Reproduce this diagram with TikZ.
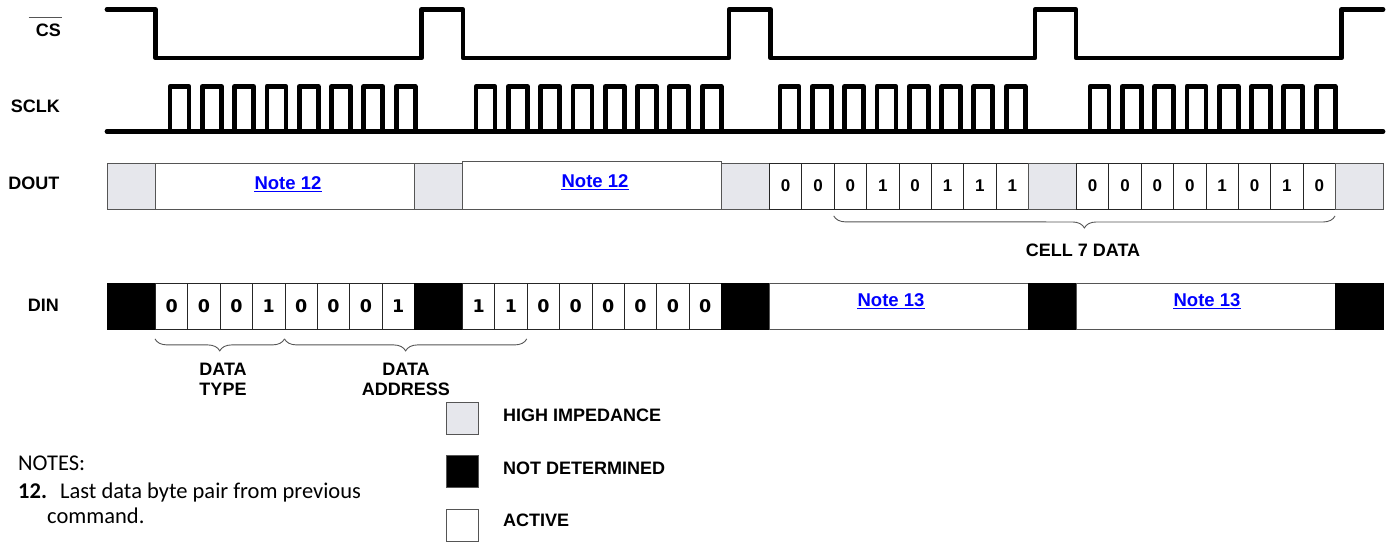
\documentclass[tikz,border=0pt]{standalone}
\usepackage{fontspec}
\setmainfont{Liberation Sans}
\newfontfamily\dinfont{DejaVu Sans}
\newfontfamily\notesfont{Carlito}
\usetikzlibrary{decorations.pathreplacing}
\definecolor{hizgray}{RGB}{230,231,236}
\definecolor{edgegray}{RGB}{85,85,85}
\definecolor{linkblue}{RGB}{0,0,255}
\begin{document}
\begin{tikzpicture}[x=1pt,y=-1pt,
  wave/.style={line width=4.8pt, line cap=round, line join=round},
  siglabel/.style={font=\fontsize{18}{21}\selectfont\bfseries, anchor=east, inner sep=0pt},
  slot/.style={draw=edgegray, line width=1pt, minimum width=48pt, minimum height=46pt, inner sep=0pt, anchor=north west},
  hiz/.style={slot, fill=hizgray},
  undet/.style={slot, fill=black, draw=black},
  datbox/.style={draw=edgegray, line width=1pt, fill=white, minimum width=259pt, minimum height=46pt, inner sep=0pt, anchor=north west},
  cell/.style={draw=black!85, line width=0.9pt, fill=white, minimum width=32.375pt, minimum height=46pt, inner sep=0pt, anchor=north west, font=\fontsize{17}{20}\selectfont\bfseries},
  dincell/.style={cell, font=\dinfont\fontsize{17.5}{20}\selectfont\bfseries},
  notelink/.style={text=linkblue, font=\fontsize{18.5}{22}\selectfont\bfseries, inner sep=0pt, anchor=base},
  linkline/.style={draw=linkblue, line width=1.4pt},
  caption/.style={font=\fontsize{18}{20}\selectfont\bfseries, inner sep=0pt, align=center},
  bracebar/.style={draw=edgegray, line width=0.9pt, decorate, decoration={brace, mirror, amplitude=12pt}},
  legbox/.style={draw=edgegray, line width=1pt, minimum width=32pt, minimum height=32pt, inner sep=0pt, anchor=north west},
  legtext/.style={font=\fontsize{18}{21}\selectfont\bfseries, anchor=west, inner sep=0pt},
  notetext/.style={font=\notesfont\fontsize{22.5}{26}\selectfont, anchor=base west, inner sep=0pt},
  overbar/.style={draw=edgegray, line width=1pt}
]
\useasboundingbox (0,0) rectangle (1389,542);

% ---------- signal labels ----------
\node[siglabel] (lcs) at (61,30.5) {CS};
\draw[overbar] ([xshift=-7pt,yshift=6.5pt]lcs.north west) -- ([xshift=1pt,yshift=6.5pt]lcs.north east);
\node[siglabel] (lsclk) at (60,106.7) {SCLK};
\node[siglabel] (ldout) at (59.5,183) {DOUT};
\node[siglabel] (ldin) at (59,305) {DIN};

% ---------- CS waveform ----------
\draw[wave] (107,9.5) -- (155.5,9.5) -- (155.5,58) -- (421.5,58) -- (421.5,9.5)
  -- (463,9.5) -- (463,58) -- (729,58) -- (729,9.5) -- (770.5,9.5) -- (770.5,58)
  -- (1035,58) -- (1035,9.5) -- (1076,9.5) -- (1076,58) -- (1341.5,58)
  -- (1341.5,9.5) -- (1383,9.5);

% ---------- SCLK waveform ----------
\draw[wave] (107,131.5) -- (1383,131.5);
\foreach \g in {170,476,780,1090}{
  \foreach \i in {0,...,7}{
    \draw[wave] ({\g+\i*32.3},131.5) -- ({\g+\i*32.3},86.5) -- ({\g+\i*32.3+19},86.5) -- ({\g+\i*32.3+19},131.5);
  }
}

% ---------- DOUT row ----------
\node[hiz] (dz0) at (107,163) {};
\node[datbox] (dd0) at (155,163) {};
\node[hiz] (dz1) at (414,163) {};
\node[datbox, minimum height=48pt] (dd1) at (462,161) {};
\node[hiz] (dz2) at (721,163) {};
\foreach \b [count=\i from 0] in {0,0,0,1,0,1,1,1}
  \node[cell] (dc2-\i) at ({769+\i*32.375},163) {\raisebox{1.2pt}{\b}};
\node[hiz] (dz3) at (1028,163) {};
\foreach \b [count=\i from 0] in {0,0,0,0,1,0,1,0}
  \node[cell] (dc3-\i) at ({1076+\i*32.375},163) {\raisebox{1.2pt}{\b}};
\node[hiz] (dz4) at (1335,163) {};

\node[notelink] (n12a) at (288,189) {Note 12};
\draw[linkline] ([yshift=-2.2pt]n12a.base west) -- ([yshift=-2.2pt]n12a.base east);
\node[notelink] (n12b) at (595,187) {Note 12};
\draw[linkline] ([yshift=-2.2pt]n12b.base west) -- ([yshift=-2.2pt]n12b.base east);

\draw[bracebar] ([yshift=-6pt]dc2-2.south west) -- ([yshift=-6pt]dz4.south west);
\node[caption] (cap7) at (1083,250) {CELL 7 DATA};

% ---------- DIN row ----------
\node[undet] (iz0) at (107,283) {};
\foreach \b [count=\i from 0] in {0,0,0,1,0,0,0,1}
  \node[dincell] (ic0-\i) at ({155+\i*32.375},283) {\b};
\node[undet] (iz1) at (414,283) {};
\foreach \b [count=\i from 0] in {1,1,0,0,0,0,0,0}
  \node[dincell] (ic1-\i) at ({462+\i*32.375},283) {\b};
\node[undet] (iz2) at (721,283) {};
\node[datbox] (id2) at (769,283) {};
\node[undet] (iz3) at (1028,283) {};
\node[datbox] (id3) at (1076,283) {};
\node[undet] (iz4) at (1335,283) {};

\node[notelink] (n13a) at (891,306) {Note 13};
\draw[linkline] ([yshift=-2.2pt]n13a.base west) -- ([yshift=-2.2pt]n13a.base east);
\node[notelink] (n13b) at (1207,306) {Note 13};
\draw[linkline] ([yshift=-2.2pt]n13b.base west) -- ([yshift=-2.2pt]n13b.base east);

\draw[bracebar] ([yshift=-9pt]ic0-0.south west) -- ([yshift=-9pt]ic0-4.south west);
\draw[bracebar] ([yshift=-9pt]ic0-4.south west) -- ([yshift=-9pt]ic1-2.south west);
\node[caption] (capT) at (223,379.5) {DATA\\TYPE};
\node[caption] (capA) at (406,379.5) {DATA\\ADDRESS};

% ---------- legend ----------
\node[legbox, fill=hizgray] (lg1) at (446,401.5) {};
\node[legbox, fill=black] (lg2) at (446,455) {};
\node[legbox, fill=white] (lg3) at (446,508.5) {};
\node[legtext] (lt1) at (503,415) {HIGH IMPEDANCE};
\node[legtext] (lt2) at (503,468.7) {NOT DETERMINED};
\node[legtext] (lt3) at (503,520.3) {ACTIVE};

% ---------- notes ----------
\node[notetext] (notes) at (18,470) {NOTES:};
\node[notetext, font=\notesfont\fontsize{22.5}{26}\selectfont\bfseries] (n12num) at (18,498) {12.};
\node[notetext] (n12l1) at (60,498) {Last data byte pair from previous};
\node[notetext] (n12l2) at (47,523) {command.};
\end{tikzpicture}
\end{document}
